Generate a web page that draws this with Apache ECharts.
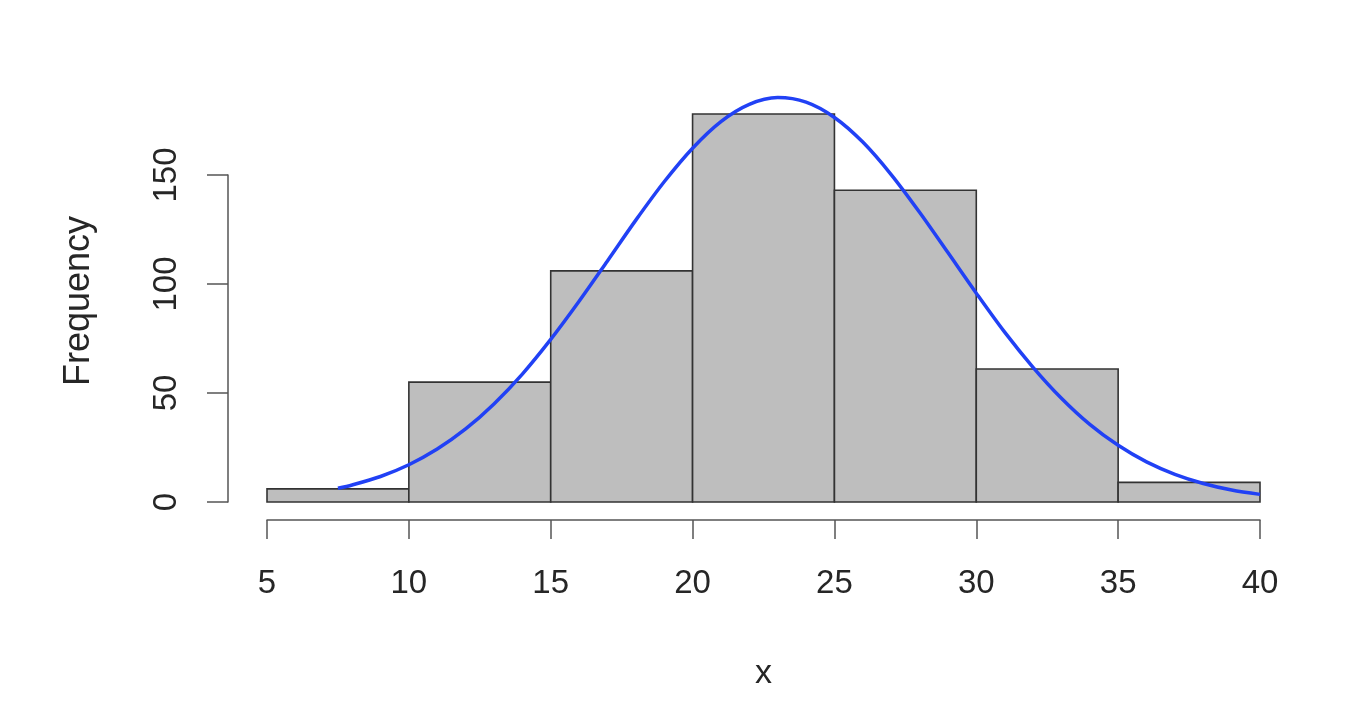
<!DOCTYPE html>
<html>
<head>
<meta charset="utf-8">
<script src="https://cdn.jsdelivr.net/npm/echarts@6/dist/echarts.min.js"></script>
<style>html,body{margin:0;padding:0;background:#fff;}#c{width:1355px;height:707px;}</style>
</head>
<body>
<div id="c"></div>
<script>
// Histogram bins (start, end) and counts
const binStarts = [5, 10, 15, 20, 25, 30, 35];
const binEnds = [10, 15, 20, 25, 30, 35, 40];
const counts = [6, 55, 106, 178, 143, 61, 9];
// Fitted curve
const curveX = [7.5, 8, 9, 10, 11, 12, 13, 14, 15, 16, 17, 18, 19, 20, 21, 22, 23, 24, 25, 26, 27, 28, 29, 30, 31, 32, 33, 34, 35, 36, 37, 38, 39, 40];
const curveY = [6.3, 7.8, 11.7, 17.1, 24.3, 33.5, 45, 58.7, 74.6, 92.1, 110.6, 129.3, 146.9, 162.3, 174.5, 182.4, 185.5, 183.4, 176.4, 165.1, 150.2, 132.9, 114.4, 95.8, 77.9, 61.8, 47.6, 35.6, 26, 18.4, 12.7, 8.5, 5.5, 3.5];
const xTicks = [5, 10, 15, 20, 25, 30, 35, 40];
const yTicks = [0, 50, 100, 150];
const xTitle = 'x';
const yTitle = 'Frequency';

const chart = echarts.init(document.getElementById('c'), null, {renderer: 'canvas'});
const font = '"Liberation Sans", Arial, sans-serif';
const txt = '#262626';
const axisCol = '#555555';

const histData = binStarts.map((s, i) => [s, binEnds[i], counts[i]]);
const curveData = curveX.map((x, i) => [x, curveY[i]]);

chart.setOption({
  animation: false,
  backgroundColor: '#ffffff',
  grid: {left: 267, right: 95, top: 175, bottom: 205, containLabel: false},
  graphic: [{
    type: 'text', x: 79, y: 301, rotation: Math.PI / 2,
    style: {text: yTitle, font: '36px ' + font, fill: txt, textAlign: 'center', textVerticalAlign: 'middle'}
  }],
  xAxis: {
    type: 'value', min: xTicks[0], max: xTicks[xTicks.length - 1], interval: 5,
    offset: 18,
    name: xTitle, nameLocation: 'middle', nameGap: 137,
    nameTextStyle: {fontFamily: font, fontSize: 34, color: txt},
    axisLine: {show: true, onZero: false, lineStyle: {color: axisCol, width: 1.5}},
    axisTick: {show: true, length: 19, lineStyle: {color: axisCol, width: 1.5}},
    axisLabel: {fontFamily: font, fontSize: 33, color: txt, margin: 47},
    splitLine: {show: false}
  },
  yAxis: {
    type: 'value', min: yTicks[0], max: yTicks[yTicks.length - 1], interval: 50,
    offset: 39,
    axisLine: {show: true, onZero: false, lineStyle: {color: axisCol, width: 1.5}},
    axisTick: {show: true, length: 21, lineStyle: {color: axisCol, width: 1.5}},
    axisLabel: {fontFamily: font, fontSize: 33, color: txt, rotate: 90, margin: 45},
    splitLine: {show: false}
  },
  series: [
    {
      type: 'custom',
      clip: false,
      data: histData,
      encode: {x: [0, 1], y: 2},
      renderItem: function (params, api) {
        const p0 = api.coord([api.value(0), 0]);
        const p1 = api.coord([api.value(1), api.value(2)]);
        return {
          type: 'rect',
          shape: {x: p0[0], y: p1[1], width: p1[0] - p0[0], height: p0[1] - p1[1]},
          style: {fill: '#bebebe', stroke: '#333333', lineWidth: 1.6}
        };
      },
      z: 1
    },
    {
      type: 'line',
      data: curveData,
      smooth: 0.3,
      clip: false,
      showSymbol: false,
      symbol: 'none',
      lineStyle: {color: '#2141f5', width: 3.5},
      z: 3
    }
  ]
});
</script>
</body>
</html>
